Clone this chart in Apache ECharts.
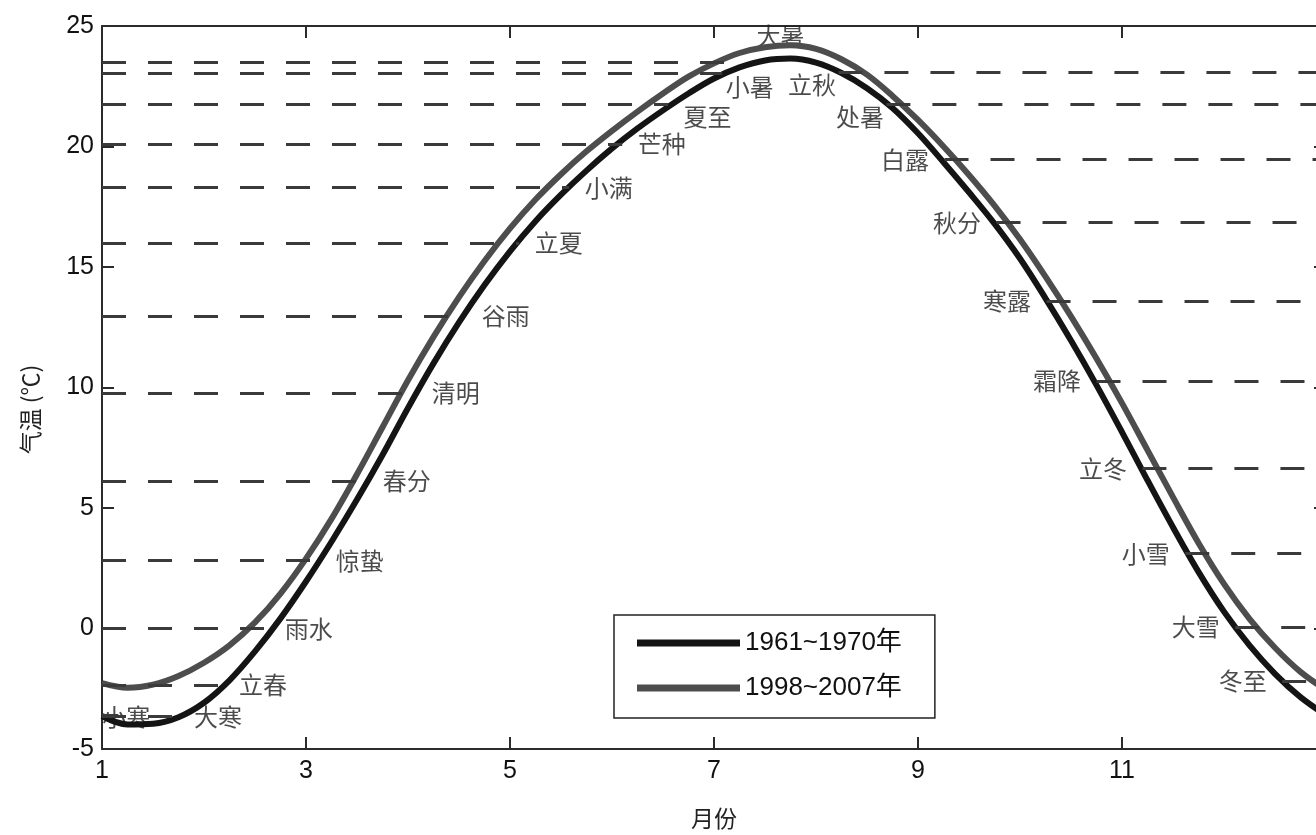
<!DOCTYPE html>
<html>
<head>
<meta charset="utf-8">
<title>气温与二十四节气</title>
<script src="https://cdn.jsdelivr.net/npm/echarts@6.0.0/dist/echarts.min.js"></script>
<style>
  html, body { margin: 0; padding: 0; background: #fff; overflow: hidden; }
  /* 原图右侧被裁切：画布比窗口略宽，13 月刻度落在可见区外 */
  #chart { width: 1326px; height: 835px; }
</style>
</head>
<body>
<div id="chart"></div>
<script>
// 月份（小数表示月内位置）
const months = [1, 1.25, 1.5, 1.75, 2, 2.25, 2.5, 2.75, 3, 3.25, 3.5, 3.75, 4, 4.25, 4.5, 4.75, 5, 5.25, 5.5, 5.75,
  6, 6.25, 6.5, 6.75, 7, 7.25, 7.5, 7.75, 8, 8.25, 8.5, 8.75, 9, 9.25, 9.5, 9.75, 10, 10.25, 10.5, 10.75,
  11, 11.25, 11.5, 11.75, 12, 12.25, 12.5, 12.75, 13]
// 1961~1970年 平均气温
const temp1961 = [-3.63, -3.98, -3.95, -3.68, -3.08, -2.15, -0.95, 0.42, 1.95, 3.6, 5.35, 7.2, 9.15, 11.0, 12.7, 14.25, 15.65, 16.9, 18.0, 19.0,
  19.92, 20.75, 21.5, 22.2, 22.82, 23.28, 23.57, 23.65, 23.48, 23.05, 22.42, 21.6, 20.55, 19.35, 18.1, 16.8, 15.35, 13.7, 11.95, 10.1,
  8.15, 6.15, 4.2, 2.35, 0.7, -0.7, -1.88, -2.85, -3.6]
// 1998~2007年 平均气温
const temp1998 = [-2.27, -2.46, -2.33, -1.97, -1.42, -0.7, 0.25, 1.45, 2.9, 4.55, 6.4, 8.35, 10.3, 12.1, 13.75, 15.25, 16.6, 17.8, 18.85, 19.8,
  20.65, 21.45, 22.2, 22.9, 23.45, 23.88, 24.12, 24.2, 24.05, 23.62, 22.98, 22.1, 21.1, 20.0, 18.82, 17.55, 16.15, 14.6, 12.95, 11.2,
  9.35, 7.4, 5.45, 3.55, 1.85, 0.4, -0.8, -1.8, -2.55]

// 二十四节气：名称、在曲线上的位置（月）、对应气温
const termNames = ['小寒', '大寒', '立春', '雨水', '惊蛰', '春分', '清明', '谷雨', '立夏', '小满', '芒种', '夏至',
  '小暑', '大暑', '立秋', '处暑', '白露', '秋分', '寒露', '霜降', '立冬', '小雪', '大雪', '冬至']
const termMonths = [1.16, 1.75, 2.19, 2.64, 3.14, 3.6, 4.08, 4.57, 5.09, 5.58, 6.1, 6.55,
  7.08, 7.3, 8.22, 8.69, 9.26, 9.77, 10.26, 10.75, 11.2, 11.62, 12.11, 12.57]
const termTemps = [-3.6, -3.65, -2.35, 0, 2.82, 6.13, 9.77, 12.96, 16.0, 18.3, 20.1, 21.77,
  23.05, 23.5, 23.1, 21.77, 19.46, 16.85, 13.58, 10.27, 6.63, 3.11, 0.05, -2.18]

const xTicks = [1, 3, 5, 7, 9, 11, 13]
const xLabels = [1, 3, 5, 7, 9, 11]

const X_MIN = 1
const X_MAX = 13
// 前半年的虚线从左边框画到曲线，后半年从曲线画到右边框
const FIRST_HALF = 14

const labelTweaks = {
  '小寒': { position: 'inside', offset: [8, 2] },
  '夏至': { offset: [0, 13] },
  '小暑': { distance: 3, offset: [0, 14] },
  '大暑': { position: 'top', distance: 14, offset: [36, 0] },
  '立秋': { distance: 2, offset: [0, 13] },
  '处暑': { distance: 2, offset: [0, 13] }
}

const latin = "'Liberation Sans', Arial, 'Noto Sans CJK SC', sans-serif"
const cjk = "'Noto Sans CJK SC', 'Liberation Sans', sans-serif"
const axisColor = '#2b2b2b'

const chart = echarts.init(document.getElementById('chart'))

const termData = termNames.map((name, i) => {
  const tweak = labelTweaks[name] || {}
  return {
    name,
    value: [termMonths[i], termTemps[i]],
    label: {
      position: tweak.position || (i < FIRST_HALF ? 'right' : 'left'),
      distance: tweak.distance !== undefined ? tweak.distance : 15,
      offset: tweak.offset || [0, 0]
    }
  }
})

const termLines = termNames.map((name, i) => {
  const v = termTemps[i]
  return i < FIRST_HALF
    ? [{ coord: [X_MIN, v] }, { coord: [termMonths[i], v] }]
    : [{ coord: [termMonths[i], v] }, { coord: [X_MAX, v] }]
})

const baseX = {
  type: 'value',
  min: X_MIN,
  max: X_MAX,
  splitLine: { show: false },
  axisLine: { onZero: false, lineStyle: { color: axisColor, width: 2 } },
  axisTick: { inside: true, length: 12, customValues: xTicks, lineStyle: { color: axisColor, width: 2 } }
}
const baseY = {
  type: 'value',
  min: -5,
  max: 25,
  interval: 5,
  splitLine: { show: false },
  axisLine: { show: true, onZero: false, lineStyle: { color: axisColor, width: 2 } },
  axisTick: { show: true, inside: true, length: 12, lineStyle: { color: axisColor, width: 2 } }
}

chart.setOption({
  animation: false,
  backgroundColor: '#fff',
  grid: { left: 102, right: 0, top: 26, bottom: 84 },
  legend: {
    data: ['1961~1970年', '1998~2007年'],
    orient: 'vertical',
    left: 614,
    top: 615,
    icon: 'rect',
    itemWidth: 103,
    itemHeight: 7,
    itemGap: 15,
    padding: [13, 33, 15, 23],
    borderColor: '#222',
    borderWidth: 1.5,
    backgroundColor: '#fff',
    textStyle: { fontFamily: latin, fontSize: 26, color: '#111', lineHeight: 30 }
  },
  xAxis: [
    Object.assign({}, baseX, {
      position: 'bottom',
      name: '月份',
      nameLocation: 'middle',
      nameGap: 58,
      nameTextStyle: { fontFamily: cjk, fontSize: 23, color: '#222' },
      axisLabel: { customValues: xLabels, fontFamily: latin, fontSize: 25, color: '#111', margin: 10 }
    }),
    Object.assign({}, baseX, {
      position: 'top',
      axisLabel: { show: false }
    })
  ],
  yAxis: [
    Object.assign({}, baseY, {
      position: 'left',
      name: '气温 (℃)',
      nameLocation: 'middle',
      nameRotate: 90,
      nameGap: 60,
      nameTextStyle: { fontFamily: cjk, fontSize: 23, color: '#222', padding: [0, 44, 0, 0] },
      axisLabel: { fontFamily: latin, fontSize: 25, color: '#111', margin: 8 }
    }),
    Object.assign({}, baseY, {
      position: 'right',
      axisLabel: { show: false }
    })
  ],
  series: [
    {
      name: '节气',
      type: 'scatter',
      z: 1,
      symbolSize: 1,
      itemStyle: { color: 'rgba(0,0,0,0)' },
      label: {
        show: true,
        formatter: (p) => p.name,
        fontFamily: cjk,
        fontSize: 24,
        color: '#1e1e1e'
      },
      data: termData,
      markLine: {
        silent: true,
        symbol: ['none', 'none'],
        label: { show: false },
        lineStyle: { type: [24, 22], width: 3, color: '#3a3a3a' },
        emphasis: { disabled: true },
        data: termLines
      }
    },
    {
      name: '1961~1970年',
      type: 'line',
      z: 3,
      smooth: 0.35,
      showSymbol: false,
      color: '#141414',
      lineStyle: { width: 6, color: '#141414' },
      data: months.map((m, i) => [m, temp1961[i]])
    },
    {
      name: '1998~2007年',
      type: 'line',
      z: 3,
      smooth: 0.35,
      showSymbol: false,
      color: '#4d4d4d',
      lineStyle: { width: 6, color: '#4d4d4d' },
      data: months.map((m, i) => [m, temp1998[i]])
    }
  ]
})
</script>
</body>
</html>
